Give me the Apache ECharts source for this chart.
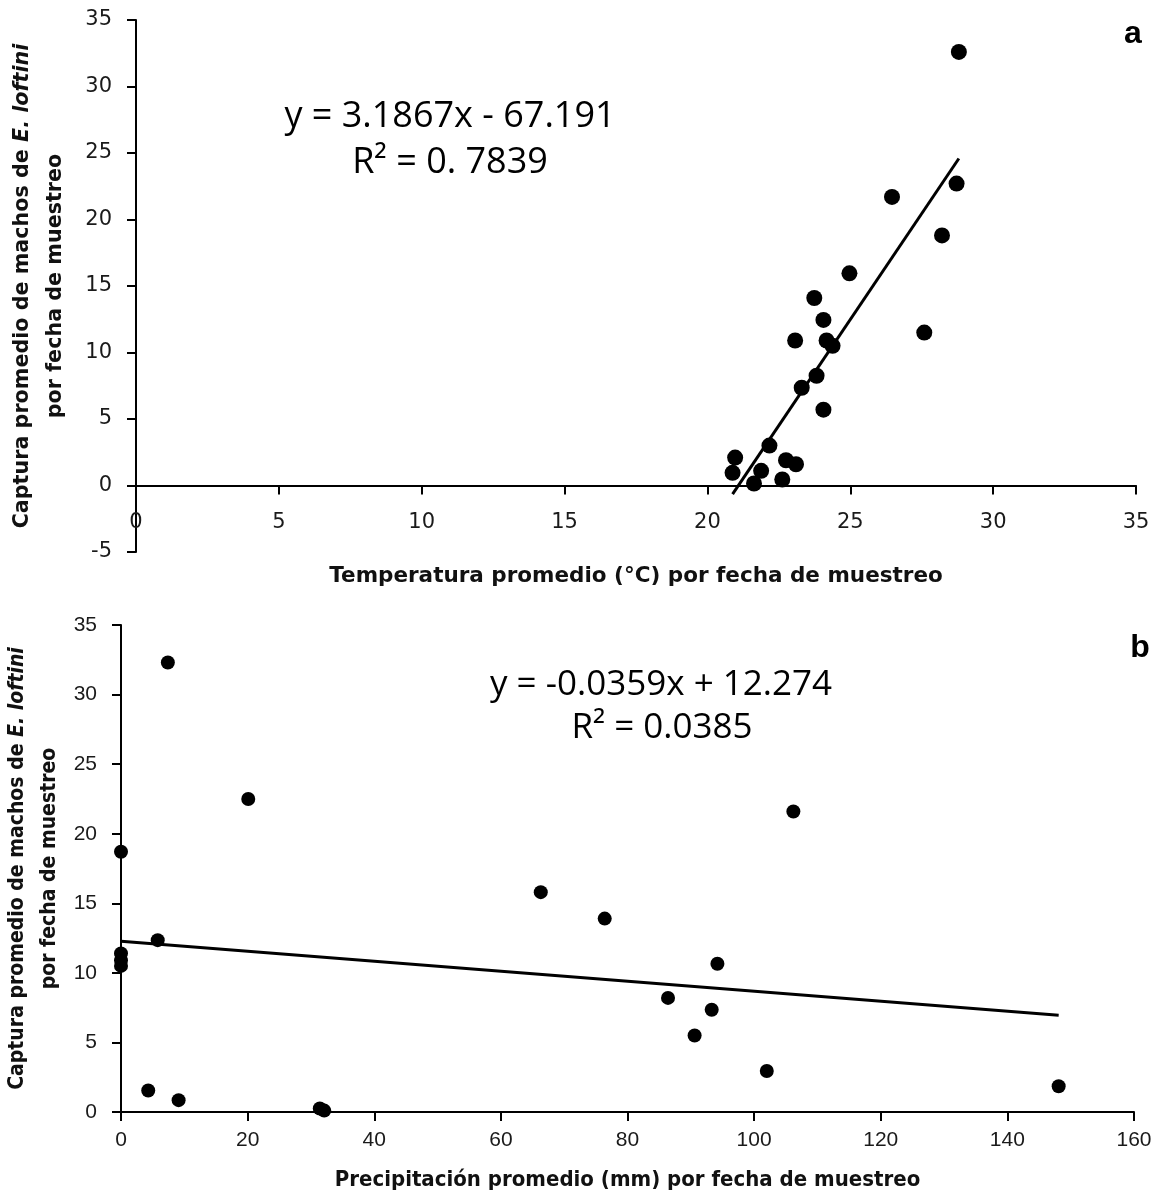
<!DOCTYPE html>
<html>
<head>
<meta charset="utf-8">
<script src="https://cdn.jsdelivr.net/npm/echarts@6/dist/echarts.min.js"></script>
<style>
html,body{margin:0;padding:0;background:#fff;}
#chart{width:1157px;height:1198px;}
</style>
</head>
<body>
<div id="chart"></div>
<script>
// Panel a: temperature vs mean catch
const tempX = [28.80, 28.72, 26.46, 28.21, 24.97, 23.74, 24.06, 23.07, 24.17, 24.38, 27.59, 23.82, 23.30, 24.06, 22.17, 20.97, 20.88, 21.88, 22.75, 23.10, 21.63, 22.62];
const capturaA = [32.6, 22.7, 21.7, 18.8, 15.95, 14.1, 12.45, 10.9, 10.9, 10.5, 11.5, 8.25, 7.35, 5.7, 3.0, 2.1, 0.95, 1.1, 1.9, 1.6, 0.15, 0.45];
// Panel b: precipitation vs mean catch
const precipX = [7.4, 20.1, 106.2, 0, 66.3, 76.4, 5.8, 0, 0, 0, 94.2, 86.4, 93.3, 90.6, 102.0, 148.1, 4.3, 9.1, 31.4, 32.1];
const capturaB = [32.3, 22.5, 21.6, 18.7, 15.8, 13.9, 12.35, 11.4, 10.9, 10.5, 10.65, 8.2, 7.35, 5.5, 2.95, 1.85, 1.55, 0.85, 0.25, 0.1];
// Trend line coefficients [slope, intercept]
const trendA = [3.1867, -67.191];
const trendB = [-0.0359, 12.274];
// Tick ranges
const axisA = {xMin: 0, xMax: 35, xStep: 5, yMin: -5, yMax: 35, yStep: 5};
const axisB = {xMin: 0, xMax: 160, xStep: 20, yMin: 0, yMax: 35, yStep: 5};
// Texts
const eqA = ['y = 3.1867x - 67.191', 'R\u00b2 = 0. 7839'];
const eqB = ['y = -0.0359x + 12.274', 'R\u00b2 = 0.0385'];
const xTitleA = 'Temperatura promedio (\u00b0C) por fecha de muestreo';
const xTitleB = 'Precipitaci\u00f3n promedio (mm) por fecha de muestreo';

function trendPts(xs, c) {
  const lo = Math.min(...xs), hi = Math.max(...xs);
  return [[lo, c[0] * lo + c[1]], [hi, c[0] * hi + c[1]]];
}
function zip(a, b) { return a.map((v, i) => [v, b[i]]); }

const gridA = {left: 136, top: 20, width: 1000, height: 532};
const gridB = {left: 121, top: 625, width: 1013, height: 487};
// x axis of panel a crosses the y axis at 0: shift it up from the grid bottom
const offsetA = -(0 - axisA.yMin) / (axisA.yMax - axisA.yMin) * gridA.height;

const chart = echarts.init(document.getElementById('chart'), null, {renderer: 'canvas'});
const black = '#000';
const lblColor = '#1a1a1a';
const yName = '{b|Captura promedio de machos de }{i|E. loftini}\n{b|por fecha de muestreo}';
function yRich(fs, lh, fam) {
  return {
    b: {fontWeight: 'bold', fontSize: fs, fontFamily: fam, color: '#111', lineHeight: lh},
    i: {fontWeight: 'bold', fontStyle: 'italic', fontSize: fs, fontFamily: fam, color: '#111', lineHeight: lh}
  };
}
const lineStyleAx = {color: black, width: 2};
const tickStyle = {show: true, length: 9, inside: false, lineStyle: {color: black, width: 2}};
const condensed = '"DejaVu Sans Condensed", "DejaVu Sans"';

chart.setOption({
  animation: false,
  backgroundColor: '#fff',
  grid: [
    Object.assign({outerBoundsMode: 'none', containLabel: false}, gridA),
    Object.assign({outerBoundsMode: 'none', containLabel: false}, gridB)
  ],
  xAxis: [
    {
      gridIndex: 0, type: 'value', min: axisA.xMin, max: axisA.xMax, interval: axisA.xStep,
      offset: offsetA,
      axisLine: {show: true, onZero: false, lineStyle: lineStyleAx}, axisTick: tickStyle, splitLine: {show: false},
      axisLabel: {margin: 27, fontSize: 21, fontFamily: 'DejaVu Sans', color: lblColor},
      name: xTitleA, nameLocation: 'middle', nameGap: 80,
      nameTextStyle: {fontSize: 21.5, fontWeight: 'bold', fontFamily: 'DejaVu Sans', color: '#111'}
    },
    {
      gridIndex: 1, type: 'value', min: axisB.xMin, max: axisB.xMax, interval: axisB.xStep,
      axisLine: {show: true, onZero: false, lineStyle: lineStyleAx}, axisTick: tickStyle, splitLine: {show: false},
      axisLabel: {margin: 18, fontSize: 21, fontFamily: 'Liberation Sans', color: lblColor},
      name: xTitleB, nameLocation: 'middle', nameGap: 57,
      nameTextStyle: {fontSize: 22, fontWeight: 'bold', fontFamily: condensed, color: '#111'}
    }
  ],
  yAxis: [
    {
      gridIndex: 0, type: 'value', min: axisA.yMin, max: axisA.yMax, interval: axisA.yStep,
      axisLine: {show: true, onZero: false, lineStyle: lineStyleAx}, axisTick: tickStyle, splitLine: {show: false},
      axisLabel: {margin: 24, fontSize: 21, fontFamily: 'DejaVu Sans', color: lblColor},
      name: yName, nameLocation: 'middle', nameGap: 64, nameRotate: 90,
      nameTextStyle: {rich: yRich(20.7, 33, 'DejaVu Sans')}
    },
    {
      gridIndex: 1, type: 'value', min: axisB.yMin, max: axisB.yMax, interval: axisB.yStep,
      axisLine: {show: true, onZero: false, lineStyle: lineStyleAx}, axisTick: tickStyle, splitLine: {show: false},
      axisLabel: {margin: 24, fontSize: 21, fontFamily: 'Liberation Sans', color: lblColor},
      name: yName, nameLocation: 'middle', nameGap: 55, nameRotate: 90,
      nameTextStyle: {rich: yRich(21, 32, condensed)}
    }
  ],
  series: [
    {type: 'scatter', xAxisIndex: 0, yAxisIndex: 0, data: zip(tempX, capturaA), symbolSize: 16, itemStyle: {color: black, opacity: 1}, z: 3},
    {type: 'line', xAxisIndex: 0, yAxisIndex: 0, data: trendPts(tempX, trendA), showSymbol: false, lineStyle: {color: black, width: 3}, z: 2},
    {type: 'scatter', xAxisIndex: 1, yAxisIndex: 1, data: zip(precipX, capturaB), symbolSize: 14, itemStyle: {color: black, opacity: 1}, z: 3},
    {type: 'line', xAxisIndex: 1, yAxisIndex: 1, data: trendPts(precipX, trendB), showSymbol: false, lineStyle: {color: black, width: 3}, z: 2}
  ],
  graphic: [
    {type: 'text', x: 450, y: 117, style: {text: eqA[0], font: '36px "Open Sans"', fill: '#000', align: 'center', verticalAlign: 'middle'}},
    {type: 'text', x: 450, y: 163, style: {text: eqA[1], font: '36px "Open Sans"', fill: '#000', align: 'center', verticalAlign: 'middle'}},
    {type: 'text', x: 661, y: 685, style: {text: eqB[0], font: '35px "Open Sans"', fill: '#000', align: 'center', verticalAlign: 'middle'}},
    {type: 'text', x: 662, y: 728, style: {text: eqB[1], font: '35px "Open Sans"', fill: '#000', align: 'center', verticalAlign: 'middle'}},
    {type: 'text', x: 1133, y: 34, style: {text: 'a', font: 'bold 32px "Liberation Sans"', fill: '#000', align: 'center', verticalAlign: 'middle'}},
    {type: 'text', x: 1140, y: 648, style: {text: 'b', font: 'bold 32px "Liberation Sans"', fill: '#000', align: 'center', verticalAlign: 'middle'}}
  ]
});
</script>
</body>
</html>
